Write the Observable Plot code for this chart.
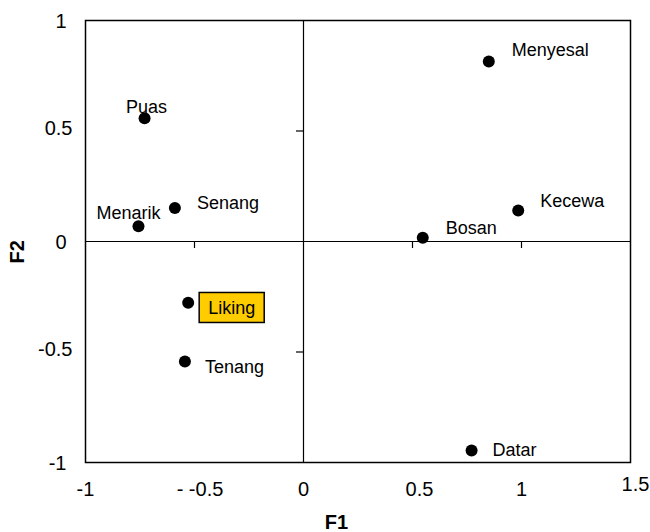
<!DOCTYPE html>
<html><head><meta charset="utf-8">
<script src="https://cdn.jsdelivr.net/npm/d3@7"></script>
<script src="https://cdn.jsdelivr.net/npm/@observablehq/plot@0.6"></script>
<style>body{margin:0;background:#fff}</style>
</head><body><div id="chart"></div>
<script>
// ---- data ----
const names = ["Puas","Senang","Menarik","Menyesal","Kecewa","Bosan","Liking","Tenang","Datar"];
const f1 = [-0.729,-0.590,-0.757,0.850,0.985,0.547,-0.529,-0.544,0.771];
const f2 = [0.558,0.152,0.069,0.814,0.140,0.017,-0.277,-0.543,-0.946];
const xTicks = [-1,-0.5,0,0.5,1,1.5];
const yTicks = [-1,-0.5,0,0.5,1];
const zeroAxisXTicks = [-0.5,0.5,1];
const zeroAxisYTicks = [-0.5,0.5];
const highlighted = "Liking";
const xTitle = "F1", yTitle = "F2";

// ---- layout (label placement) ----
const labelLayout = {
  Puas:    {anchor:"middle", dx:2,  dy:-11},
  Senang:  {anchor:"start",  dx:22, dy:-5},
  Menarik: {anchor:"end",    dx:22, dy:-13},
  Menyesal:{anchor:"start",  dx:23, dy:-11},
  Kecewa:  {anchor:"start",  dx:22, dy:-9.5},
  Bosan:   {anchor:"start",  dx:23, dy:-10},
  Liking:  {anchor:"start",  dx:20, dy:6},
  Tenang:  {anchor:"start",  dx:20, dy:5.5},
  Datar:   {anchor:"start",  dx:21, dy:0}
};

const data = names.map((n,i) => ({name:n, f1:f1[i], f2:f2[i]}));
const font = "'Liberation Sans', Arial, Helvetica, sans-serif";

const labelMarks = data.map(d => {
  const L = labelLayout[d.name];
  return Plot.text([d], {x:"f1", y:"f2", text:"name", textAnchor:L.anchor, dx:L.dx, dy:L.dy,
    fontSize:18, fill:"black"});
});

const fmt = d => String(d);

const chart = Plot.plot({
  width:650, height:532,
  marginLeft:85, marginRight:20, marginTop:20, marginBottom:70,
  style:{fontFamily:font, fontSize:"18px", background:"white", color:"black"},
  x:{domain:[-1,1.5]},
  y:{domain:[-1,1]},
  marks:[
    Plot.ruleX([0], {stroke:"black", strokeWidth:1.2}),
    Plot.ruleY([0], {stroke:"black", strokeWidth:1.2}),
    Plot.ruleX(zeroAxisXTicks, {x:d=>d, y1:0, y2:0, insetBottom:-7, stroke:"black", strokeWidth:1.2}),
    Plot.ruleY(zeroAxisYTicks, {y:d=>d, x1:0, x2:0, insetLeft:-7, stroke:"black", strokeWidth:1.2}),
    Plot.frame({stroke:"black", strokeWidth:1.5}),
    // x tick labels
    Plot.axisX(xTicks.filter(t => t===-1||t===0||t===1), {tickSize:0, tickPadding:19, fontSize:20, label:null, tickFormat:fmt}),
    Plot.axisX(xTicks.filter(t => t===-0.5), {tickSize:0, tickPadding:19, fontSize:20, label:null, dx:5.5, tickFormat:d=>"- "+fmt(d)}),
    Plot.axisX(xTicks.filter(t => t===0.5), {tickSize:0, tickPadding:19, fontSize:20, label:null, dx:7, tickFormat:fmt}),
    Plot.axisX(xTicks.filter(t => t===1.5), {tickSize:0, tickPadding:14, fontSize:20, label:null, dx:5, tickFormat:fmt}),
    // y tick labels
    Plot.axisY(yTicks.filter(t => Math.abs(t)!==0.5), {tickSize:0, tickPadding:19, fontSize:20, label:null, dy:1.5, tickFormat:fmt}),
    Plot.axisY(yTicks.filter(t => Math.abs(t)===0.5), {tickSize:0, tickPadding:13, fontSize:20, label:null, dy:-2, tickFormat:fmt}),
    // axis titles
    Plot.text([xTitle], {frameAnchor:"bottom", dx:-21.5, dy:66, fontSize:20, fontWeight:"bold", fill:"black"}),
    Plot.text([yTitle], {frameAnchor:"left", dx:-68, dy:22, rotate:-90, fontSize:20, fontWeight:"bold", fill:"black"}),
    Plot.dot(data, {x:"f1", y:"f2", r:6, fill:"black", stroke:"none"}),
    ...labelMarks
  ]
});
document.getElementById("chart").appendChild(chart);

// box behind the highlighted label
const t = [...chart.querySelectorAll("text")].find(e => e.textContent === highlighted);
if (t) {
  const b = t.getBBox();
  const rect = document.createElementNS("http://www.w3.org/2000/svg","rect");
  const cy = b.y + b.height/2;
  rect.setAttribute("x", b.x - 9);
  rect.setAttribute("y", cy - 16);
  rect.setAttribute("width", b.width + 18);
  rect.setAttribute("height", 30);
  rect.setAttribute("fill", "#FFCC00");
  rect.setAttribute("stroke", "black");
  rect.setAttribute("stroke-width", 1.5);
  if (t.getAttribute("transform")) rect.setAttribute("transform", t.getAttribute("transform"));
  t.parentNode.insertBefore(rect, t);
}
</script>
</body></html>
